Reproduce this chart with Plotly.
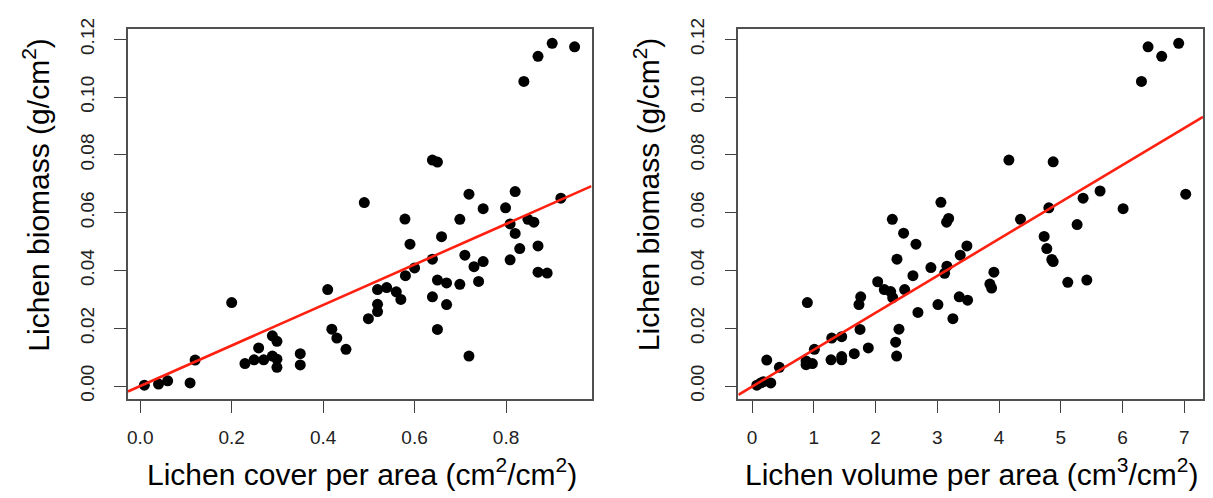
import plotly.graph_objects as go

# ---- data ----
cover = [0.839, 0.870, 0.901, 0.950, 0.639, 0.650, 0.719, 0.820, 0.920, 0.490,
         0.750, 0.799, 0.579, 0.699, 0.809, 0.848, 0.861, 0.820, 0.659, 0.590,
         0.830, 0.870, 0.710, 0.639, 0.809, 0.730, 0.750, 0.600, 0.580, 0.650,
         0.670, 0.699, 0.740, 0.870, 0.890, 0.410, 0.519, 0.539, 0.560, 0.570,
         0.519, 0.519, 0.499, 0.639, 0.670, 0.650, 0.719, 0.200, 0.419, 0.430,
         0.450, 0.289, 0.299, 0.259, 0.289, 0.299, 0.299, 0.249, 0.270, 0.229,
         0.350, 0.350, 0.120, 0.109, 0.060, 0.040, 0.009]
biomass_left = [0.1054, 0.1141, 0.1186, 0.1174, 0.0782, 0.0775, 0.0664, 0.0673, 0.0650, 0.0635,
                0.0614, 0.0617, 0.0578, 0.0577, 0.0561, 0.0577, 0.0567, 0.0528, 0.0517, 0.0491,
                0.0476, 0.0485, 0.0453, 0.0439, 0.0437, 0.0413, 0.0431, 0.0409, 0.0382, 0.0367,
                0.0357, 0.0352, 0.0362, 0.0394, 0.0391, 0.0334, 0.0334, 0.0341, 0.0326, 0.0300,
                0.0283, 0.0258, 0.0233, 0.0309, 0.0282, 0.0196, 0.0104, 0.0289, 0.0197, 0.0166,
                0.0127, 0.0174, 0.0155, 0.0132, 0.0104, 0.0093, 0.0065, 0.0091, 0.0091, 0.0078,
                0.0112, 0.0073, 0.0090, 0.0011, 0.0018, 0.0007, 0.0003]

volume = [6.306, 6.413, 6.634, 6.909, 4.159, 4.876, 5.361, 5.636, 7.023, 3.058,
          4.806, 6.009, 2.271, 3.183, 3.150, 4.347, 5.264, 2.454, 2.654, 3.479,
          4.730, 4.773, 4.854, 4.876, 3.371, 2.346, 2.896, 3.155, 3.118, 2.605,
          3.916, 3.851, 3.879, 5.113, 5.421, 2.034, 2.141, 2.244, 2.277, 2.471,
          1.759, 1.731, 0.895, 3.355, 3.490, 3.010, 2.686, 3.252, 1.748, 2.379,
          1.451, 1.290, 2.325, 1.882, 2.341, 1.009, 1.655, 1.451, 1.451, 1.278,
          0.874, 0.874, 0.976, 0.237, 0.442, 0.302, 0.076, 0.141, 0.183]
biomass_right = [0.1054, 0.1174, 0.1141, 0.1186, 0.0782, 0.0776, 0.0650, 0.0675, 0.0664, 0.0636,
                 0.0617, 0.0614, 0.0577, 0.0580, 0.0567, 0.0577, 0.0559, 0.0529, 0.0491, 0.0485,
                 0.0518, 0.0476, 0.0438, 0.0431, 0.0453, 0.0439, 0.0410, 0.0415, 0.0390, 0.0382,
                 0.0394, 0.0353, 0.0339, 0.0359, 0.0367, 0.0361, 0.0334, 0.0327, 0.0306, 0.0334,
                 0.0309, 0.0282, 0.0289, 0.0309, 0.0297, 0.0282, 0.0255, 0.0233, 0.0196, 0.0197,
                 0.0171, 0.0166, 0.0152, 0.0132, 0.0104, 0.0127, 0.0112, 0.0102, 0.0091, 0.0091,
                 0.0087, 0.0074, 0.0078, 0.0090, 0.0065, 0.0011, 0.0003, 0.0011, 0.0015]

# regression lines (intercept, slope)
fit_left = (0.0000, 0.0701)
fit_right = (-0.0002, 0.01278)

y_ticks = [0.00, 0.02, 0.04, 0.06, 0.08, 0.10, 0.12]
y_tick_labels = ["0.00", "0.02", "0.04", "0.06", "0.08", "0.10", "0.12"]
x_ticks_left = [0.0, 0.2, 0.4, 0.6, 0.8]
x_tick_labels_left = ["0.0", "0.2", "0.4", "0.6", "0.8"]
x_ticks_right = [0, 1, 2, 3, 4, 5, 6, 7]
x_tick_labels_right = ["0", "1", "2", "3", "4", "5", "6", "7"]

x_title_left = "Lichen cover per area (cm<sup>2</sup>/cm<sup>2</sup>)"
x_title_right = "Lichen volume per area (cm<sup>3</sup>/cm<sup>2</sup>)"
y_title = "Lichen biomass (g/cm<sup>2</sup>)"

# ---- layout geometry ----
W, H = 1213, 498
FONT = "Liberation Sans, Arial, Helvetica, sans-serif"
xr_left = [-0.027, 0.987]
xr_right = [-0.222, 7.303]
yr = [-0.0044, 0.1234]


def px_x(p):
    return p / W


def px_y(p):
    return 1 - p / H


fig = go.Figure()

marker = dict(color="black", size=11, line=dict(width=0))
fig.add_trace(go.Scatter(x=cover, y=biomass_left, mode="markers", marker=marker,
                         xaxis="x", yaxis="y", showlegend=False))
fig.add_trace(go.Scatter(x=volume, y=biomass_right, mode="markers", marker=marker,
                         xaxis="x2", yaxis="y2", showlegend=False))

lx = [xr_left[0], xr_left[1]]
fig.add_trace(go.Scatter(x=lx, y=[fit_left[0] + fit_left[1] * v for v in lx],
                         mode="lines", line=dict(color="#ff2010", width=2.6),
                         xaxis="x", yaxis="y", showlegend=False))
rx = [xr_right[0], xr_right[1]]
fig.add_trace(go.Scatter(x=rx, y=[fit_right[0] + fit_right[1] * v for v in rx],
                         mode="lines", line=dict(color="#ff2010", width=2.6),
                         xaxis="x2", yaxis="y2", showlegend=False))

axis_common = dict(showgrid=False, zeroline=False, showline=True, mirror=True,
                   linecolor="#505050", linewidth=1.5, ticks="outside", ticklen=12,
                   tickwidth=1.2, tickcolor="#404040",
                   tickfont=dict(family=FONT, size=19, color="#222222"))

ydom = [px_y(399), px_y(19)]
fig.update_layout(
    width=W, height=H,
    margin=dict(l=0, r=0, t=0, b=0),
    paper_bgcolor="white", plot_bgcolor="white",
    font=dict(family=FONT),
    xaxis=dict(domain=[px_x(127), px_x(591)], range=xr_left, tickvals=x_ticks_left,
               ticktext=x_tick_labels_left, anchor="y", ticklabelstandoff=9, **axis_common),
    yaxis=dict(domain=ydom, range=yr, tickvals=y_ticks, ticktext=y_tick_labels,
               tickangle=-90, anchor="x", ticklabelstandoff=13, **axis_common),
    xaxis2=dict(domain=[px_x(738), px_x(1203)], range=xr_right, tickvals=x_ticks_right,
                ticktext=x_tick_labels_right, anchor="y2", ticklabelstandoff=9, **axis_common),
    yaxis2=dict(domain=ydom, range=yr, tickvals=y_ticks, ticktext=y_tick_labels,
                tickangle=-90, anchor="x2", ticklabelstandoff=13, **axis_common),
)

title_font = dict(family=FONT, size=30, color="black")
annotations = [
    dict(text=x_title_left, x=px_x(361), y=px_y(474), xref="paper", yref="paper",
         xanchor="center", yanchor="middle", showarrow=False, font=title_font),
    dict(text=x_title_right, x=px_x(972), y=px_y(474), xref="paper", yref="paper",
         xanchor="center", yanchor="middle", showarrow=False, font=title_font),
    dict(text=y_title, x=px_x(35), y=px_y(189), xref="paper", yref="paper",
         xanchor="center", yanchor="middle", textangle=-90, showarrow=False, font=title_font),
    dict(text=y_title, x=px_x(646), y=px_y(189), xref="paper", yref="paper",
         xanchor="center", yanchor="middle", textangle=-90, showarrow=False, font=title_font),
]
fig.update_layout(annotations=annotations)

fig.write_html("out.html")
